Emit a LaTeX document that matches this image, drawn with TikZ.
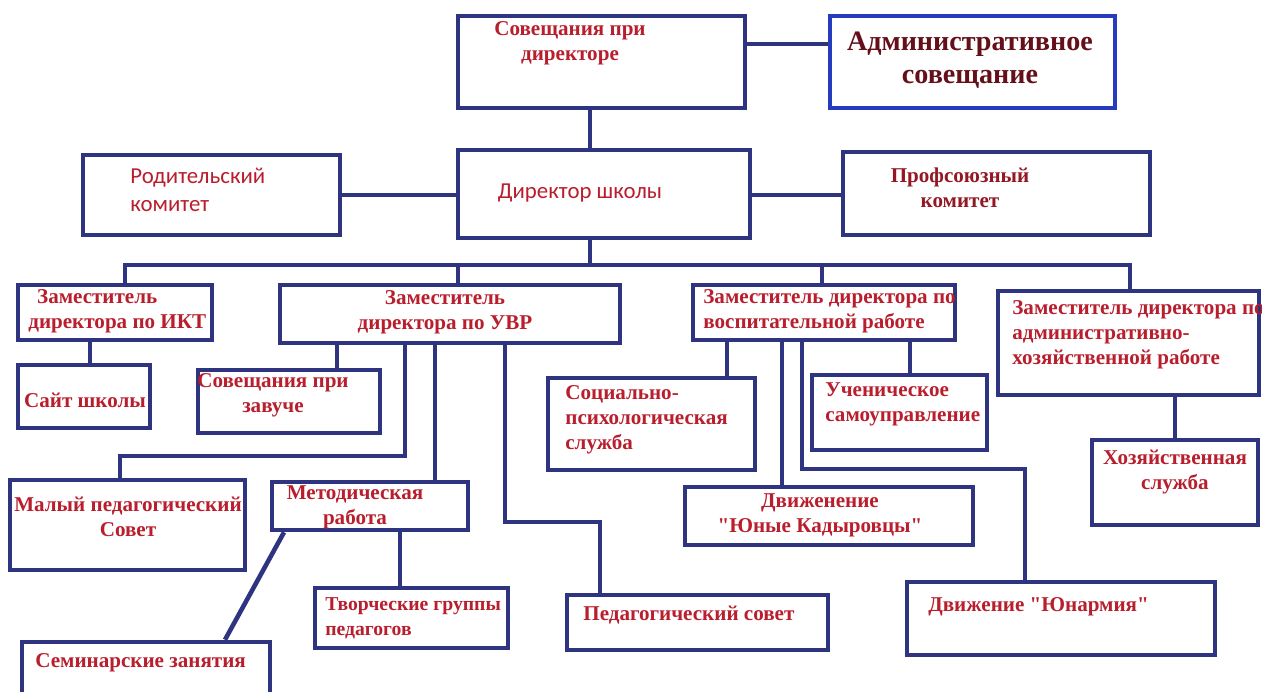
\documentclass[tikz,border=0pt]{standalone}
\usepackage{fontspec}
\setmainfont{Liberation Serif}
\newfontfamily\calibri{Carlito}
\usetikzlibrary{fit}
\definecolor{navy}{RGB}{46,52,128}
\definecolor{royal}{RGB}{38,60,190}
\definecolor{txtred}{RGB}{185,30,45}
\definecolor{darkred}{RGB}{100,15,25}
\newcommand\qq{\XeTeXglyph\XeTeXcharglyph"22\relax}

\begin{document}
\begin{tikzpicture}[x=0.02cm,y=-0.02cm]
      \tikzstyle{box}=[draw=navy, line width=2.6pt, inner sep=0pt]
      \tikzstyle{lbl}=[text=txtred, font=\bfseries\fontsize{12}{14.2}\selectfont, inner sep=0pt]
      \tikzstyle{sans}=[text=txtred, font=\calibri\fontsize{13}{16}\selectfont, inner sep=0pt]
      \tikzstyle{link}=[draw=navy, line width=2.6pt]
      \useasboundingbox[fill=white] (0,0) rectangle (1262,691);
      % top row
      \node[box, fit={(458,16) (745,108)}] (sovdir) {};
      \node[lbl, align=center] (t-sovdir) at (570,43) {Совещания при\\директоре};
      \node[box, draw=royal, fit={(830,16) (1115,108)}] (admin) {};
      \node[lbl, text=darkred, align=center, font=\bfseries\fontsize{16}{19}\selectfont] (t-admin) at (970,60) {Административное\\совещание};
      % director row
      \node[box, fit={(458,150) (750,238)}] (dir) {};
      \node[sans] (t-dir) at (580,193) {Директор школы};
      \node[box, fit={(83,155) (340,235)}] (rod) {};
      \node[sans, align=left, anchor=west] (t-rod) at (130,190) {Родительский\\комитет};
      \node[box, fit={(843,152) (1150,235)}] (prof) {};
      \node[lbl, text=txtred!80!black, align=center] (t-prof) at (960,188) {Профсоюзный\\комитет};
      % deputies
      \node[box, fit={(18,285) (212,340)}] (ikt) {};
      \node[lbl, align=left, anchor=west] (t-ikt) at (28,311) {\hspace*{5pt}Заместитель\\директора по ИКТ};
      \node[box, fit={(280,285) (620,343)}] (uvr) {};
      \node[lbl, align=center] (t-uvr) at (445,312) {Заместитель\\директора по УВР};
      \node[box, fit={(693,285) (955,340)}] (vr) {};
      \node[lbl, align=left, anchor=west] (t-vr) at (703,311) {Заместитель директора по\\воспитательной работе};
      \node[box, fit={(998,291) (1259,395)}] (ahr) {};
      \node[lbl, align=left, anchor=west] (t-ahr) at (1012,335) {Заместитель директора по\\административно-\\хозяйственной работе};
      % services
      \node[box, fit={(18,365) (150,428)}] (sait) {};
      \node[lbl] (t-sait) at (85,400) {Сайт школы};
      \node[box, fit={(198,370) (380,433)}] (zav) {};
      \node[lbl, align=center] (t-zav) at (273,395) {Совещания при\\завуче};
      \node[box, fit={(548,378) (755,470)}] (soc) {};
      \node[lbl, align=left, anchor=west] (t-soc) at (565,420) {Социально-\\психологическая\\служба};
      \node[box, fit={(812,375) (987,450)}] (uch) {};
      \node[lbl, align=left, anchor=west] (t-uch) at (825,404) {Ученическое\\самоуправление};
      \node[box, fit={(1092,440) (1258,525)}] (hoz) {};
      \node[lbl, align=center] (t-hoz) at (1175,472) {Хозяйственная\\служба};
      \node[box, fit={(10,480) (245,570)}] (malyi) {};
      \node[lbl, align=center] (t-malyi) at (128,517) {Малый педагогический\\Совет};
      \node[box, fit={(272,482) (468,530)}] (met) {};
      \node[lbl, align=center] (t-met) at (355,507) {Методическая\\работа};
      \node[box, fit={(685,487) (973,545)}] (kad) {};
      \node[lbl, align=center] (t-kad) at (820,515) {Движенение\\\qq Юные Кадыровцы\qq};
      \node[box, fit={(315,588) (508,648)}] (tvor) {};
      \node[lbl, align=left, anchor=west, font=\bfseries\fontsize{11.2}{14.2}\selectfont] (t-tvor) at (325,618) {Творческие группы\\педагогов};
      \node[box, fit={(567,595) (828,650)}] (ped) {};
      \node[lbl, anchor=west] (t-ped) at (583,615) {Педагогический совет};
      \node[box, fit={(907,582) (1215,655)}] (yun) {};
      \node[lbl, anchor=west] (t-yun) at (928,607) {Движение \qq Юнармия\qq};
      \node[box, fit={(22,642) (270,705)}] (sem) {};
      \node[lbl, anchor=west] (t-sem) at (35,663) {Семинарские занятия};
      % connectors
      \coordinate (trunk) at (590,0);
      \coordinate (bus) at (0,265);
      \draw[link] (sovdir.east |- 0,44) -- (admin.west |- 0,44);
      \draw[link] (sovdir.south -| trunk) -- (dir.north -| trunk);
      \draw[link] (rod.east |- 0,195) -- (dir.west |- 0,195);
      \draw[link] (dir.east |- 0,195) -- (prof.west |- 0,195);
      \draw[link] (dir.south -| trunk) -- (bus -| trunk);
      \draw[link] (ikt.north -| 125,0) -- (bus -| 125,0) -- (bus -| 1130,0) -- (ahr.north -| 1130,0);
      \draw[link] (uvr.north -| 458,0) -- (bus -| 458,0);
      \draw[link] (vr.north -| 822,0) -- (bus -| 822,0);
      \draw[link] (ikt.south -| 90,0) -- (sait.north -| 90,0);
      \draw[link] (uvr.south -| 337,0) -- (zav.north -| 337,0);
      \draw[link] (uvr.south -| 405,0) |- (120,456) -- (malyi.north -| 120,0);
      \draw[link] (uvr.south -| 435,0) -- (met.north -| 435,0);
      \draw[link] (uvr.south -| 505,0) |- (600,522) -- (ped.north -| 600,0);
      \draw[link] (met.south -| 284,0) -- (sem.north -| 225,0);
      \draw[link] (met.south -| 400,0) -- (tvor.north -| 400,0);
      \draw[link] (vr.south -| 727,0) -- (soc.north -| 727,0);
      \draw[link] (vr.south -| 910,0) -- (uch.north -| 910,0);
      \draw[link] (vr.south -| 782,0) -- (kad.north -| 782,0);
      \draw[link] (vr.south -| 802,0) |- (1025,469) -- (yun.north -| 1025,0);
      \draw[link] (ahr.south -| 1175,0) -- (hoz.north -| 1175,0);
\end{tikzpicture}
\end{document}
